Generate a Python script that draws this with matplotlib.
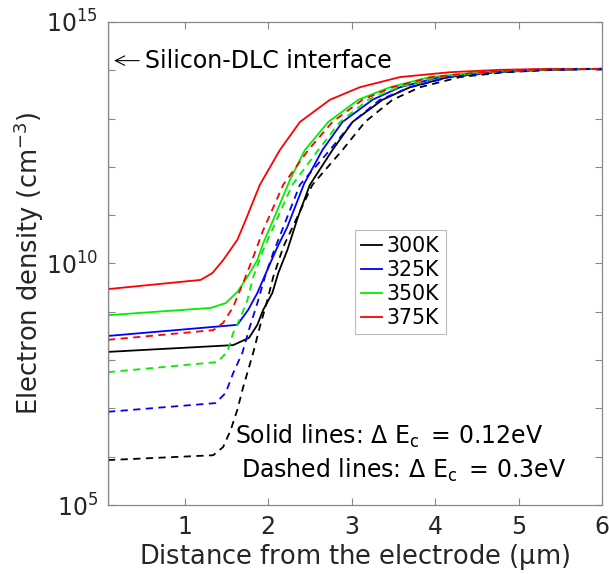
import numpy as np
import matplotlib
matplotlib.use("Agg")
import matplotlib.pyplot as plt

plt.rcParams["mathtext.default"] = "regular"
plt.rcParams["font.family"] = "DejaVu Sans"

# x positions (um) and log10(electron density / cm^-3)
x_300_solid = [0.08, 1.58, 1.77, 1.87, 1.94, 2.05, 2.12, 2.23, 2.36, 2.50, 2.77, 3.01, 3.37, 3.70, 4.16, 4.72, 5.32, 6.0]
n_300_solid = [8.17, 8.31, 8.46, 8.73, 9.04, 9.39, 9.80, 10.28, 10.98, 11.63, 12.35, 12.93, 13.39, 13.65, 13.86, 13.96, 14.01, 14.03]

x_325_solid = [0.08, 1.63, 1.76, 1.87, 1.99, 2.11, 2.23, 2.43, 2.65, 2.89, 3.25, 3.58, 4.06, 4.66, 5.26, 6.0]
n_325_solid = [8.50, 8.73, 9.04, 9.39, 9.87, 10.34, 10.76, 11.65, 12.35, 12.93, 13.39, 13.65, 13.86, 13.96, 14.01, 14.03]

x_350_solid = [0.08, 1.31, 1.49, 1.63, 1.75, 1.87, 1.94, 2.06, 2.26, 2.44, 2.72, 3.08, 3.46, 3.94, 4.54, 5.14, 6.0]
n_350_solid = [8.93, 9.08, 9.18, 9.41, 9.72, 10.07, 10.42, 10.90, 11.73, 12.35, 12.93, 13.39, 13.65, 13.86, 13.96, 14.01, 14.03]

x_375_solid = [0.08, 1.19, 1.33, 1.46, 1.63, 1.73, 1.90, 2.14, 2.38, 2.74, 3.10, 3.58, 4.18, 4.78, 5.38, 6.0]
n_375_solid = [9.47, 9.66, 9.80, 10.07, 10.49, 10.90, 11.63, 12.35, 12.93, 13.39, 13.65, 13.86, 13.96, 14.01, 14.03, 14.03]

x_300_dash = [0.08, 1.34, 1.46, 1.55, 1.63, 1.70, 1.82, 1.90, 1.99, 2.06, 2.18, 2.53, 2.89, 3.16, 3.49, 3.82, 4.30, 4.84, 5.44, 6.0]
n_300_dash = [5.93, 6.03, 6.20, 6.55, 6.97, 7.44, 8.15, 8.69, 9.24, 9.72, 10.34, 11.63, 12.35, 12.93, 13.39, 13.65, 13.86, 13.96, 14.01, 14.03]

x_325_dash = [0.08, 1.37, 1.49, 1.58, 1.69, 1.78, 1.87, 1.96, 2.06, 2.38, 2.74, 3.01, 3.34, 3.70, 4.18, 4.75, 5.35, 6.0]
n_325_dash = [6.93, 7.11, 7.32, 7.73, 8.15, 8.69, 9.18, 9.72, 10.22, 11.63, 12.35, 12.93, 13.39, 13.65, 13.86, 13.96, 14.01, 14.03]

x_350_dash = [0.08, 1.39, 1.51, 1.58, 1.67, 1.75, 1.82, 1.94, 2.29, 2.60, 2.86, 3.20, 3.56, 4.04, 4.64, 5.23, 6.0]
n_350_dash = [7.75, 7.96, 8.17, 8.56, 8.89, 9.24, 9.72, 10.28, 11.63, 12.35, 12.93, 13.39, 13.65, 13.86, 13.96, 14.01, 14.03]

x_375_dash = [0.08, 1.34, 1.46, 1.58, 1.70, 1.82, 1.94, 2.18, 2.48, 2.77, 3.13, 3.49, 3.96, 4.56, 5.14, 6.0]
n_375_dash = [8.42, 8.62, 8.77, 9.10, 9.60, 10.13, 10.69, 11.63, 12.35, 12.93, 13.39, 13.65, 13.86, 13.96, 14.01, 14.03]

temps = ["300K", "325K", "350K", "375K"]
colors = ["k", "b", "#00ee00", "r"]
solid = [(x_300_solid, n_300_solid), (x_325_solid, n_325_solid),
         (x_350_solid, n_350_solid), (x_375_solid, n_375_solid)]
dashed = [(x_300_dash, n_300_dash), (x_325_dash, n_325_dash),
          (x_350_dash, n_350_dash), (x_375_dash, n_375_dash)]

x_interface = 0.08
y_ticks = list(range(5, 16))

fig = plt.figure(figsize=(6.09, 5.74), dpi=100)
ax = fig.add_axes([0.1773, 0.1202, 0.8112, 0.8415])

tc = "#262626"
# interface line at the left boundary
ax.plot([x_interface, x_interface], [1e5, 1e15], color="#333333", lw=1.6)
ax.plot([x_interface, x_interface], [1e5, 1e15], color="r", lw=1.2, ls=(0, (3, 4)))

for (x, n), c, t in zip(solid, colors, temps):
    ax.plot(x, 10 ** np.array(n), color=c, lw=1.3, label=t)
for (x, n), c in zip(dashed, colors):
    ax.plot(x, 10 ** np.array(n), color=c, lw=1.3, ls=(0, (4, 3)))

ax.set_yscale("log")
ax.set_xlim(x_interface, 6)
ax.set_ylim(1e5, 1e15)
ax.set_xticks([1, 2, 3, 4, 5, 6])
ax.set_yticks([10.0 ** k for k in y_ticks])
ax.set_yticklabels([r"$10^{%d}$" % k if k in (5, 10, 15) else "" for k in y_ticks])
ax.minorticks_off()
ax.tick_params(direction="in", top=True, right=True, length=5, width=0.8,
               color="#888888", labelcolor=tc, labelsize=17, pad=7)
for s in ax.spines.values():
    s.set_color("#888888")
    s.set_linewidth(0.9)

ax.set_xlabel(r"Distance from the electrode ($\mu$m)", fontsize=18.5, color=tc, labelpad=2)
ax.set_ylabel(r"Electron density (cm$^{-3}$)", fontsize=18.5, color=tc, labelpad=0)

leg = ax.legend(loc="upper left", bbox_to_anchor=(0.500, 0.570), borderaxespad=0,
                fontsize=14.8, handlelength=1.0, handletextpad=0.25, borderpad=0.3,
                labelspacing=0.2, fancybox=False, framealpha=1)
leg.get_frame().set_edgecolor("#bbbbbb")
leg.get_frame().set_linewidth(0.8)

ax.annotate("Silicon-DLC interface", xy=(0.12, 10 ** 14.2), xytext=(0.52, 10 ** 14.2),
            fontsize=17, color="k", va="center",
            arrowprops=dict(arrowstyle="->", color="k", lw=0.8))
ax.text(1.6, 10 ** 6.42, "Solid lines: $\\Delta$ E$_{c}$\u2002= 0.12eV", fontsize=17, color="k", va="center")
ax.text(1.67, 10 ** 5.72, "Dashed lines: $\\Delta$ E$_{c}$\u2002= 0.3eV", fontsize=17, color="k", va="center")

fig.savefig("out.png", dpi=100)
